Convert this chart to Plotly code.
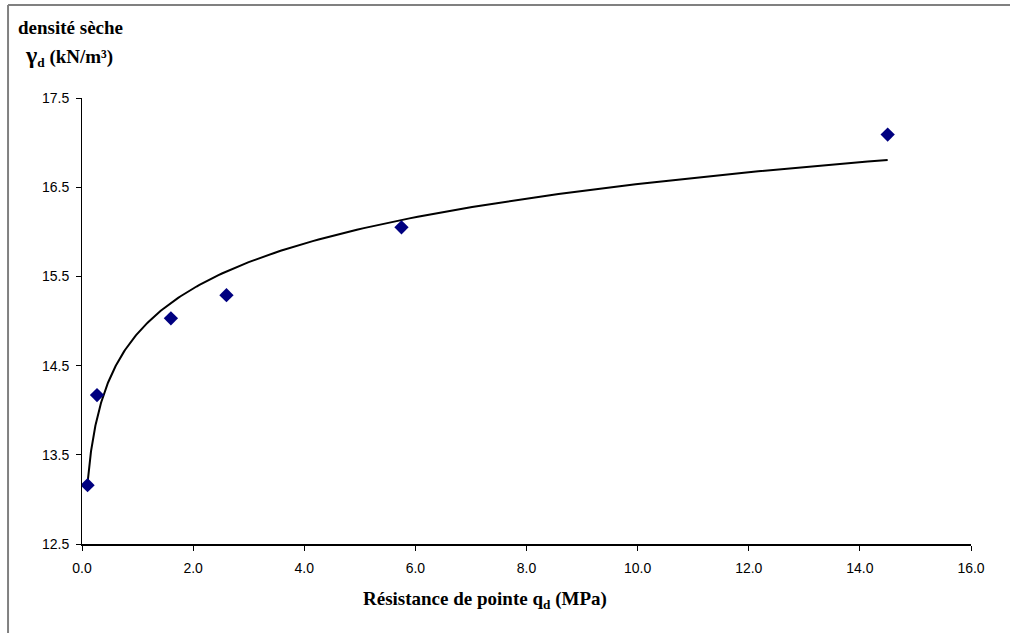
import numpy as np
import plotly.graph_objects as go

qd = [0.10, 0.27, 1.60, 2.60, 5.75, 14.50]
gamma_d = [13.16, 14.17, 15.03, 15.29, 16.05, 17.09]

x_ticks = [0, 2, 4, 6, 8, 10, 12, 14, 16]
y_ticks = [12.5, 13.5, 14.5, 15.5, 16.5, 17.5]

# excel-style logarithmic trendline  y = a ln(x) + b
a, b = np.polyfit(np.log(qd), gamma_d, 1)
xt = np.geomspace(min(qd), max(qd), 200)
yt = a * np.log(xt) + b

fig = go.Figure()
fig.add_trace(go.Scatter(x=xt, y=yt, mode="lines",
                         line=dict(color="black", width=2), hoverinfo="skip"))
fig.add_trace(go.Scatter(x=qd, y=gamma_d, mode="markers",
                         marker=dict(symbol="diamond", size=11, color="#000080")))

tickfont = dict(family="Liberation Sans, Arial", size=14, color="black")
fig.update_xaxes(range=[0, 16], tickvals=x_ticks,
                 ticktext=[f"{v:.1f}" for v in x_ticks],
                 showgrid=False, zeroline=False, showline=True, linecolor="black",
                 linewidth=2, ticks="outside", ticklen=5, tickcolor="black",
                 ticklabelstandoff=5, tickfont=tickfont)
fig.update_yaxes(range=[12.5, 17.5], tickvals=y_ticks,
                 ticktext=[f"{v:.1f}" for v in y_ticks],
                 showgrid=False, zeroline=False, showline=True, linecolor="black",
                 linewidth=1, ticks="outside", ticklen=5, tickcolor="black",
                 ticklabelstandoff=4, tickfont=tickfont)

serif = dict(family="Liberation Serif, Times New Roman", size=19, color="black")
fig.update_layout(
    width=1010, height=633,
    margin=dict(l=82, r=39, t=98, b=89),
    paper_bgcolor="white", plot_bgcolor="white",
    showlegend=False,
    annotations=[
        dict(text="<b>densité sèche</b>", xref="paper", yref="paper",
             x=-0.0745, y=1.159, xanchor="left", yanchor="middle",
             showarrow=False, font=serif),
        dict(text="<b><span style='font-size:24px'>γ</span><sub>d</sub> (kN/m³)</b>",
             xref="paper", yref="paper",
             x=-0.066, y=1.094, xanchor="left", yanchor="middle",
             showarrow=False, font=serif),
        dict(text="<b>Résistance de pointe q<sub>d</sub> (MPa)</b>",
             xref="paper", yref="paper",
             x=0.453, y=-0.1256, xanchor="center", yanchor="middle",
             showarrow=False, font=serif),
    ],
    shapes=[
        dict(type="line", xref="paper", yref="paper",
             x0=-0.0832, x1=1.1, y0=1.2085, y1=1.2085,
             line=dict(color="#808080", width=2)),
        dict(type="line", xref="paper", yref="paper",
             x0=-0.0832, x1=-0.0832, y0=-0.3, y1=1.2085,
             line=dict(color="#808080", width=2)),
    ],
)

fig.write_html("out.html", config={"displayModeBar": False},
               post_script="document.body.style.margin='0px';")
